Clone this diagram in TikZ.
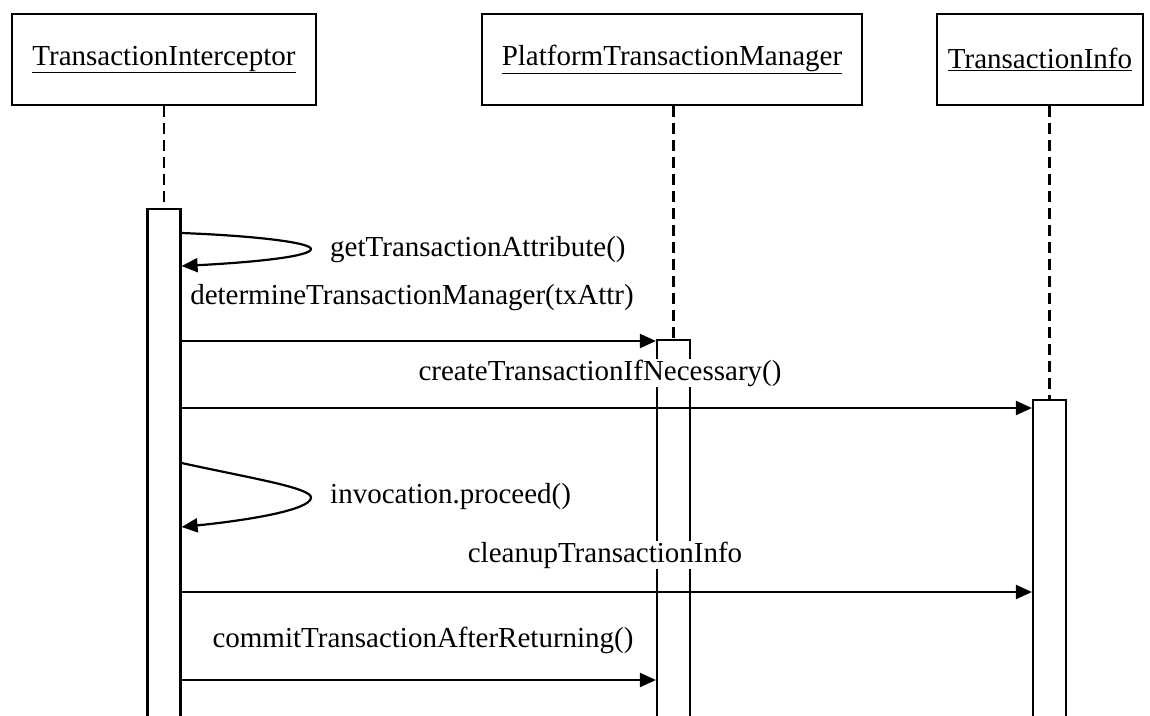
\documentclass[tikz,border=0pt]{standalone}
\usepackage{fontspec}
\setmainfont{Liberation Serif}
\usetikzlibrary{arrows.meta}
\begin{document}
\begin{tikzpicture}[x=1pt,y=-1pt,
  obj/.style={draw,line width=2.2pt,minimum width=#1,minimum height=91pt,inner sep=0pt,font=\fontsize{29}{32}\selectfont},
  act/.style={draw,line width=2.2pt,fill=white,minimum width=33pt,inner sep=0pt,anchor=north},
  life/.style={line width=2.2pt,dash pattern=on 11pt off 6pt},
  msg/.style={line width=2.2pt,-{Triangle[length=16pt,width=14pt]}},
  lbl/.style={font=\fontsize{29}{32}\selectfont,inner sep=1pt,fill=white}]
\useasboundingbox (0,0) rectangle (1150,715);
% objects
\node[obj=304pt] (b1) at (164,59.5) {\underline{TransactionInterceptor}};
\node[obj=380pt] (b2) at (672,59.5) {\underline{PlatformTransactionManager}};
\node[obj=206pt] (b3) at (1040,59.5) {\underline{TransactionInfo}};
% activations
\node[act,minimum height=520pt] (a1) at (164,208) {};
\node[act,minimum height=390pt] (a2) at (673.5,339) {};
\node[act,minimum height=330pt] (a3) at (1049.5,399) {};
% lifelines
\draw[life] (b1.south -| a1.north) -- (a1.north);
\draw[life] (b2.south -| a2.north) -- (a2.north);
\draw[life] (b3.south -| a3.north) -- (a3.north);
% message anchor points
\coordinate (l1s) at (a1.east |- 0,233);
\coordinate (l1e) at (a1.east |- 0,266);
\coordinate (l2s) at (a1.east |- 0,463);
\coordinate (l2e) at (a1.east |- 0,527);
\coordinate (m1s) at (a1.east |- 0,341);
\coordinate (m1e) at (a2.west |- 0,341);
\coordinate (m2s) at (a1.east |- 0,408);
\coordinate (m2e) at (a3.west |- 0,408);
\coordinate (m3s) at (a1.east |- 0,592);
\coordinate (m3e) at (a3.west |- 0,592);
\coordinate (m4s) at (a1.east |- 0,680);
\coordinate (m4e) at (a2.west |- 0,680);
% labels
\node[lbl,anchor=west] (t1) at (329,250) {getTransactionAttribute()};
\node[lbl] (t2) at (412,298) {determineTransactionManager(txAttr)};
\node[lbl] (t3) at (600,373) {createTransactionIfNecessary()};
\node[lbl,anchor=west] (t4) at (329,497) {invocation.proceed()};
\node[lbl] (t5) at (605,555) {cleanupTransactionInfo};
\node[lbl] (t6) at (423,640) {commitTransactionAfterReturning()};
% self calls
\draw[msg] (l1s) .. controls (260,236) and (311,243) .. (311,249)
  .. controls (311,256) and (260,262) .. (l1e);
\draw[msg] (l2s) .. controls (250,478) and (313,488) .. (311,498)
  .. controls (309,510) and (250,520) .. (l2e);
% messages
\draw[msg] (m1s) -- (m1e);
\draw[msg] (m2s) -- (m2e);
\draw[msg] (m3s) -- (m3e);
\draw[msg] (m4s) -- (m4e);
\end{tikzpicture}
\end{document}
